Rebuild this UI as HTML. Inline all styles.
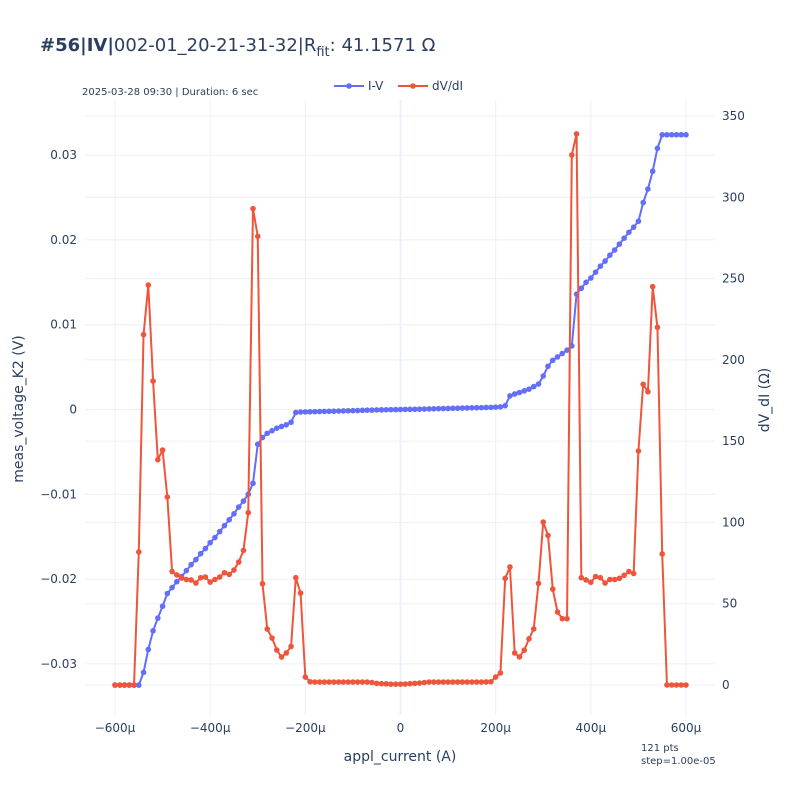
<!DOCTYPE html>
<html><head><meta charset="utf-8"><style>
body{margin:0;background:#fff;}
svg text{font-family:"DejaVu Sans","Liberation Sans",sans-serif;fill:#2a3f5f;}
</style></head><body>
<svg id="chart" width="800" height="800" xmlns="http://www.w3.org/2000/svg">
<rect width="800" height="800" fill="#fff"/>
<g id="grid"></g>
<g id="axes"></g>
<g id="series"></g>
<text x="40" y="51" font-size="18"><tspan font-weight="bold">#56|IV|</tspan>002-01_20-21-31-32|R<tspan font-size="13" dy="5">fit</tspan><tspan dy="-5">: 41.1571 Ω</tspan></text>
<text x="82" y="95" font-size="10">2025-03-28 09:30 | Duration: 6 sec</text>
<g>
<g><line x1="334" y1="86" x2="364" y2="86" stroke="#636efa" stroke-width="2"/><circle cx="349" cy="86" r="2.8" fill="#636efa"/><text x="368" y="90" font-size="12">I-V</text></g>
<g><line x1="398" y1="86" x2="428" y2="86" stroke="#EF553B" stroke-width="2"/><circle cx="413" cy="86" r="2.8" fill="#EF553B"/><text x="432" y="90" font-size="12">dV/dI</text></g>
</g>
<text x="400" y="761" font-size="14" text-anchor="middle">appl_current (A)</text>
<text transform="translate(23,409) rotate(-90)" font-size="14" text-anchor="middle">meas_voltage_K2 (V)</text>
<text transform="translate(769,400) rotate(-90)" font-size="14" text-anchor="middle">dV_dI (Ω)</text>
<text x="641" y="751" font-size="10">121 pts</text>
<text x="641" y="764" font-size="10">step=1.00e-05</text>
</svg>
<script>
const currents = [];
for (let i = -600; i <= 600; i += 10) currents.push(i);
const voltage = [-32.5,-32.5,-32.5,-32.5,-32.5,-32.5,-31.0,-28.3,-26.1,-24.6,-23.2,-21.7,-21.0,-20.3,-19.7,-19.0,-18.3,-17.7,-17.0,-16.4,-15.7,-15.1,-14.4,-13.7,-13.0,-12.3,-11.5,-10.8,-10.0,-8.7,-4.1,-3.3,-2.8,-2.5,-2.2,-2.0,-1.8,-1.5,-0.35,-0.30,
-0.28,-0.27,-0.25,-0.24,-0.22,-0.21,-0.2,-0.18,-0.17,-0.15,-0.14,-0.12,-0.1,-0.08,-0.07,-0.05,-0.04,-0.03,-0.02,-0.01,0,0.01,0.02,0.03,0.04,0.05,0.07,0.08,0.1,0.11,0.12,0.14,0.15,0.17,0.18,0.2,0.21,0.22,0.24,0.25,0.28,0.3,0.45,
1.6,1.83,2.0,2.2,2.4,2.7,3.0,3.95,5.1,5.8,6.2,6.6,7.0,7.5,13.6,14.3,15.0,15.5,16.2,16.9,17.5,18.2,18.8,19.5,20.2,20.9,21.5,22.2,24.4,26.0,28.1,30.8,32.4,32.4,32.4,32.4,32.4,32.4];
const dvdi = [0,0,0,0,0,81.8,215.5,246,187,138.6,144.5,115.6,69.8,67.7,65.8,64.9,64.6,62.7,66,66.4,63.3,64.9,66.4,69.1,68,70.7,75.6,82.8,106,293,276,62.3,34.4,28.9,21.5,17.2,19.7,23.7,66,56.5,4.9,
2,1.8,1.8,1.8,1.8,1.8,1.8,1.8,1.8,1.8,1.8,1.8,1.8,1.5,1.0,0.8,0.7,0.5,0.5,0.5,0.6,0.8,1.0,1.2,1.5,1.8,1.8,1.8,1.8,1.8,1.8,1.8,1.8,1.8,1.8,1.8,1.8,1.9,2,
4.9,7.4,65.6,72.6,19.7,17.3,21.4,28.4,34.5,62.5,100.2,92,59,44.9,40.8,40.8,326,339,66,64.6,63.2,66.7,66,62.7,64.9,64.9,65.6,67.5,69.8,68.6,143.9,185,180.4,245,220,80.6,0,0,0,0,0];
const xTicks = [-600,-400,-200,0,200,400,600];
const xTickLabels = ["−600μ","−400μ","−200μ","0","200μ","400μ","600μ"];
const yTicks = [-0.03,-0.02,-0.01,0,0.01,0.02,0.03];
const yTickLabels = ["−0.03","−0.02","−0.01","0","0.01","0.02","0.03"];
const y2Ticks = [0,50,100,150,200,250,300,350];

const X = v => 400.5 + v * (285.5/600);
const Y = mv => 409.5 - mv * 8.48;
const Yv = v => Y(v*1000);
const Y2 = o => 685 - o * (569/350);
const NS = "http://www.w3.org/2000/svg";
function mk(tag, attrs, parent){const e=document.createElementNS(NS,tag);for(const k in attrs)e.setAttribute(k,attrs[k]);parent.appendChild(e);return e;}
const grid=document.getElementById('grid'), axes=document.getElementById('axes'), series=document.getElementById('series');
const L=85,R=715,T=100,B=715;
xTicks.forEach((v,i)=>{const x=X(v);
 const g=mk('line',{x1:x,x2:x,y1:T,y2:B,stroke:'#ebf0f8','stroke-width':v===0?2:1},grid);
 
 
 const t=mk('text',{x:x,y:732,'font-size':12,'text-anchor':'middle'},axes);t.textContent=xTickLabels[i];
 
 });
yTicks.forEach((v,i)=>{const y=Yv(v);
 const g=mk('line',{x1:L,x2:R,y1:y,y2:y,stroke:'#ebf0f8','stroke-width':1},grid);
 
 
 const t=mk('text',{x:77,y:y+4,'font-size':12,'text-anchor':'end'},axes);t.textContent=yTickLabels[i];
 
 });
y2Ticks.forEach(v=>{const y=Y2(v);
 const g=mk('line',{x1:L,x2:R,y1:y,y2:y,stroke:'#ebf0f8','stroke-width':1},grid);
 
 
 const t=mk('text',{x:722,y:y+4,'font-size':12},axes);t.textContent=String(v);
 
 });
function draw(vals, yf, color, name){
 const pts=currents.map((c,i)=>X(c).toFixed(2)+','+yf(vals[i]).toFixed(2)).join(' ');
 const pl=mk('polyline',{points:pts,fill:'none',stroke:color,'stroke-width':2,'stroke-linejoin':'round'},series);
 
 
 currents.forEach((c,i)=>{const p=mk('circle',{cx:X(c),cy:yf(vals[i]),r:2.8,fill:color},series);
  
  });
}
draw(voltage, Y, '#636efa', 'iv');
draw(dvdi, Y2, '#EF553B', 'dvdi');
</script>
</body></html>
